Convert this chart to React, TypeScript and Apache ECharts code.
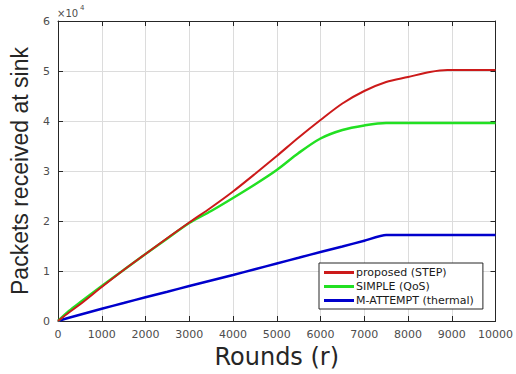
import React, { useEffect, useRef } from "react";
import * as echarts from "echarts";

const rounds = [0, 250, 500, 1000, 1500, 2000, 2500, 3000, 3500, 4000, 4500, 5000, 5500, 6000, 6500, 7000, 7500, 8000, 8500, 8900, 9500, 10000];
const proposedSTEP = [0, 1700, 3300, 6800, 10200, 13400, 16600, 19700, 22700, 25900, 29400, 33000, 36700, 40200, 43500, 46000, 47800, 48800, 49800, 50200, 50200, 50200];
const simpleQoS = [0, 2000, 3700, 7000, 10200, 13400, 16500, 19600, 22000, 24600, 27300, 30200, 33600, 36500, 38200, 39100, 39600, 39600, 39600, 39600, 39600, 39600];
const mAttempt = [0, 650, 1250, 2450, 3600, 4750, 5850, 7000, 8100, 9200, 10350, 11500, 12650, 13800, 14900, 16050, 17200, 17200, 17200, 17200, 17200, 17200];
const seriesNames = ["proposed (STEP)", "SIMPLE (QoS)", "M-ATTEMPT (thermal)"];
const xTickLabels = ["0", "1000", "2000", "3000", "4000", "5000", "6000", "7000", "8000", "9000", "10000"];
const yTickLabels = ["0", "1", "2", "3", "4", "5", "6"];

const FONT = "Liberation Sans, Arial, Helvetica, sans-serif";
const WIDE = "DejaVu Sans, Verdana, sans-serif";

export default function App() {
  const ref = useRef<HTMLDivElement>(null);
  useEffect(() => {
    if (!ref.current) return;
    const chart = echarts.init(ref.current, undefined, { renderer: "svg" });
    const pair = (vals: number[]) => rounds.map((r, i) => [r, vals[i]]);
    const axisLineStyle = { color: "#262626", width: 1 };
    const tickStyle = { color: "#262626", width: 1 };
    const option: any = {
      animation: false,
      backgroundColor: "#ffffff",
      textStyle: { fontFamily: FONT },
      grid: { left: 55, right: 17, top: 21, bottom: 53, containLabel: false },
      legend: {
        show: true,
        orient: "vertical",
        left: 319,
        top: 263,
        data: seriesNames,
        icon: "rect",
        itemWidth: 30,
        itemHeight: 3,
        itemGap: 3,
        padding: [4, 9, 3, 5],
        borderColor: "#262626",
        borderWidth: 1,
        backgroundColor: "#ffffff",
        textStyle: { fontFamily: WIDE, fontSize: 11, color: "#1a1a1a", padding: [0, 0, 0, -3] },
      },
      xAxis: [
        {
          type: "value",
          min: 0,
          max: 10000,
          interval: 1000,
          name: "Rounds (r)",
          nameLocation: "middle",
          nameGap: 21,
          nameTextStyle: { fontFamily: WIDE, fontSize: 24, color: "#262626", verticalAlign: "top" },
          axisLine: { show: true, onZero: false, lineStyle: axisLineStyle },
          axisTick: { show: true, inside: true, length: 5, lineStyle: tickStyle },
          axisLabel: {
            fontFamily: WIDE,
            fontSize: 11,
            color: "#4d4d4d",
            margin: 8,
            formatter: (v: number) => xTickLabels[Math.round(v / 1000)] ?? "",
          },
          splitLine: { show: true, lineStyle: { color: "#dcdcdc", width: 1 } },
        },
        {
          type: "value",
          position: "top",
          min: 0,
          max: 10000,
          interval: 1000,
          axisLine: { show: true, onZero: false, lineStyle: axisLineStyle },
          axisTick: { show: true, inside: true, length: 5, lineStyle: tickStyle },
          axisLabel: { show: false },
          splitLine: { show: false },
        },
      ],
      yAxis: [
        {
          type: "value",
          min: 0,
          max: 60000,
          interval: 10000,
          name: "Packets received at sink",
          nameLocation: "middle",
          nameGap: 27,
          nameTextStyle: { fontFamily: FONT, fontSize: 23, color: "#262626" },
          axisLine: { show: true, onZero: false, lineStyle: axisLineStyle },
          axisTick: { show: true, inside: true, length: 5, lineStyle: tickStyle },
          axisLabel: {
            fontFamily: WIDE,
            fontSize: 11,
            color: "#4d4d4d",
            margin: 8,
            formatter: (v: number) => yTickLabels[Math.round(v / 10000)] ?? "",
          },
          splitLine: { show: true, lineStyle: { color: "#dcdcdc", width: 1 } },
        },
        {
          type: "value",
          position: "right",
          min: 0,
          max: 60000,
          interval: 10000,
          axisLine: { show: true, onZero: false, lineStyle: axisLineStyle },
          axisTick: { show: true, inside: true, length: 5, lineStyle: tickStyle },
          axisLabel: { show: false },
          splitLine: { show: false },
        },
      ],
      graphic: [
        { type: "text", left: 57, top: 8, style: { text: "×10", fontFamily: WIDE, fontSize: 10, fill: "#4d4d4d" } },
        { type: "text", left: 80, top: 4, style: { text: "4", fontFamily: WIDE, fontSize: 7, fill: "#4d4d4d" } },
      ],
      series: [
        {
          name: seriesNames[2],
          type: "line",
          data: pair(mAttempt),
          showSymbol: false,
          smooth: 0.2,
          lineStyle: { color: "#0000cc", width: 2.5 },
          itemStyle: { color: "#0000cc" },
          z: 2,
        },
        {
          name: seriesNames[1],
          type: "line",
          data: pair(simpleQoS),
          showSymbol: false,
          smooth: 0.3,
          lineStyle: { color: "#22e022", width: 2.5 },
          itemStyle: { color: "#22e022" },
          z: 3,
        },
        {
          name: seriesNames[0],
          type: "line",
          data: pair(proposedSTEP),
          showSymbol: false,
          smooth: 0.3,
          lineStyle: { color: "#cc1a1a", width: 2 },
          itemStyle: { color: "#cc1a1a" },
          z: 4,
        },
      ],
    };
    chart.setOption(option);
    return () => chart.dispose();
  }, []);
  return <div ref={ref} style={{ width: 516, height: 374, position: "absolute", left: 0, top: 0 }} />;
}
